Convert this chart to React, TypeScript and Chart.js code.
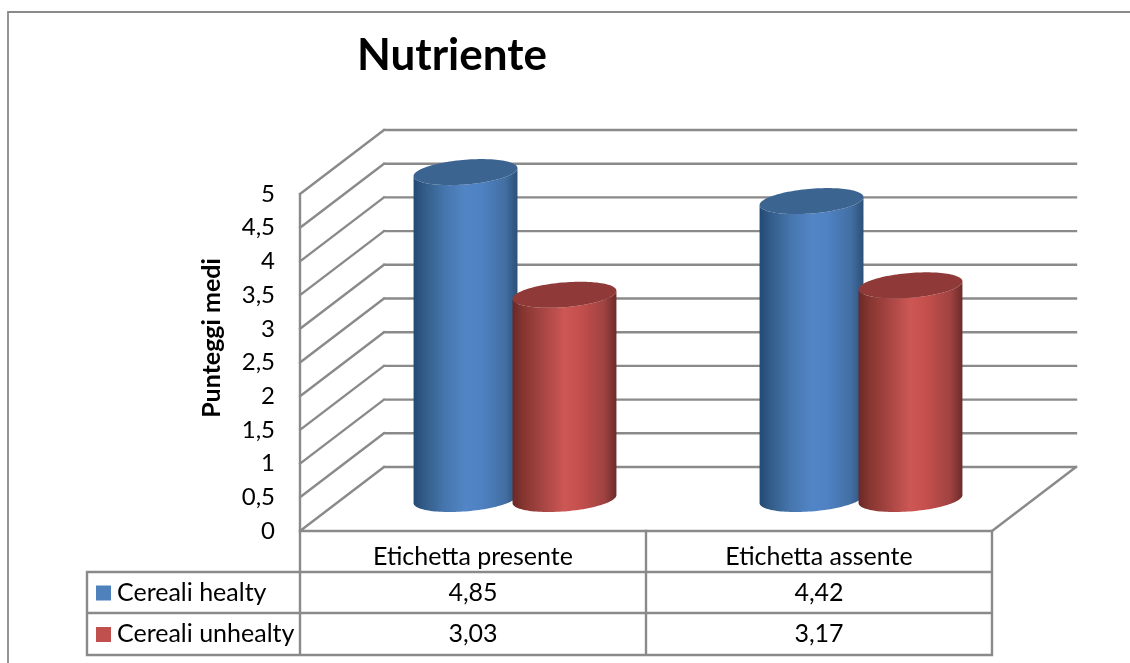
import React, { useEffect, useRef } from "react";
import { Chart, BarController, BarElement, CategoryScale, LinearScale } from "chart.js";

const categories = ["Etichetta presente", "Etichetta assente"];
const seriesNames = ["Cereali healty", "Cereali unhealty"];
const healthy = [4.85, 4.42];
const unhealthy = [3.03, 3.17];
const seriesValues = [healthy, unhealthy];
const chartTitle = "Nutriente";
const axisTitle = "Punteggi medi";

const WIDTH = 1130;
const HEIGHT = 663;
const FONT = "Lato, 'Open Sans', sans-serif";
const LINE = "#8a8a8a";

// Plot box on the front plane of the 3D frame, and the depth of the floor.
const PLOT = { left: 300, right: 992, top: 194, bottom: 531 };
const DEPTH = { x: 84, y: 64 };
// The cylinders stand halfway along the depth of the floor.
const BAR_SHIFT = { x: 42, y: 32 };
const OVAL = { minor: 12.4, tilt: 0.077 };

const SWATCHES = ["#4f81bd", "#c0504d"];
const CAPS = ["#3c6490", "#8f3a38"];
const SIDES = [
  ["#234a73", "#325b88", "#4676ad", "#5285c6", "#4f82c3", "#426fa3", "#2c5078"],
  ["#6a2827", "#85352f", "#a84644", "#cd5754", "#c44f4d", "#a04341", "#6c2b2a"],
];
const STOPS = [0, 0.1, 0.3, 0.5, 0.65, 0.88, 1];

// Bar element painted as an obliquely viewed cylinder standing on the floor.
class CylinderElement extends BarElement {
  static id = "cylinder";
  series = 0;

  draw(ctx: CanvasRenderingContext2D) {
    const { x, y, base, width } = this as any;
    const cx = x + BAR_SHIFT.x;
    const rx = width / 2;
    const topY = y - BAR_SHIFT.y;
    const baseY = base - BAR_SHIFT.y;
    const oval = (cy: number, t: number) => ({
      px: cx + rx * Math.cos(t),
      py: cy + OVAL.minor * Math.sin(t) - OVAL.tilt * rx * Math.cos(t),
    });

    const side = ctx.createLinearGradient(cx - rx, 0, cx + rx, 0);
    STOPS.forEach((s, i) => side.addColorStop(s, SIDES[this.series][i]));
    ctx.save();
    ctx.beginPath();
    for (let i = 0; i <= 60; i++) {
      const p = oval(baseY, (Math.PI * i) / 60);
      i === 0 ? ctx.moveTo(p.px, p.py) : ctx.lineTo(p.px, p.py);
    }
    for (let i = 60; i >= 0; i--) {
      const p = oval(topY, (Math.PI * i) / 60);
      ctx.lineTo(p.px, p.py);
    }
    ctx.closePath();
    ctx.fillStyle = side;
    ctx.fill();

    ctx.beginPath();
    for (let i = 0; i <= 120; i++) {
      const p = oval(topY, (2 * Math.PI * i) / 120);
      i === 0 ? ctx.moveTo(p.px, p.py) : ctx.lineTo(p.px, p.py);
    }
    ctx.closePath();
    ctx.fillStyle = CAPS[this.series];
    ctx.fill();
    ctx.restore();
  }
}

class CylinderController extends BarController {
  static id = "cylinder";
  static defaults = { ...BarController.defaults, dataElementType: "cylinder" };

  draw() {
    this.getMeta().data.forEach((el: any) => (el.series = this.index));
    super.draw();
  }
}

Chart.register(CylinderController, CylinderElement, CategoryScale, LinearScale);

function strokeSegments(ctx: CanvasRenderingContext2D, segments: number[][], width = 2.4) {
  ctx.save();
  ctx.strokeStyle = LINE;
  ctx.lineWidth = width;
  ctx.lineCap = "square";
  ctx.beginPath();
  segments.forEach(([x1, y1, x2, y2]) => {
    ctx.moveTo(x1, y1);
    ctx.lineTo(x2, y2);
  });
  ctx.stroke();
  ctx.restore();
}

// Outer border, title, axis title, 3D gridlines and the data table under the plot.
const framePlugin = {
  id: "frame",
  beforeDatasetsDraw(chart: any) {
    const ctx: CanvasRenderingContext2D = chart.ctx;
    const y = chart.scales.y;
    const x = chart.scales.x;
    const { left, right, top, bottom } = chart.chartArea;

    strokeSegments(ctx, [[8, 12, WIDTH, 12], [8, 12, 8, HEIGHT]], 1.8);

    const grid: number[][] = [[left, top, left, bottom], [left, bottom, right, bottom], [right, bottom, right + DEPTH.x, bottom - DEPTH.y]];
    y.ticks.forEach((t: any) => {
      const py = y.getPixelForValue(t.value);
      grid.push([left, py, left + DEPTH.x, py - DEPTH.y]);
      grid.push([left + DEPTH.x, py - DEPTH.y, right + DEPTH.x, py - DEPTH.y]);
    });
    strokeSegments(ctx, grid);

    const rows = [572, 613, 655];
    const middle = x.getPixelForValue(0.5);
    strokeSegments(ctx, [
      [left, bottom, left, rows[2]],
      [middle, bottom, middle, rows[2]],
      [right, bottom, right, rows[2]],
      [87, rows[0], right, rows[0]],
      [87, rows[1], right, rows[1]],
      [87, rows[2], right, rows[2]],
      [87, rows[0], 87, rows[2]],
    ]);

    ctx.save();
    ctx.fillStyle = "#000";
    ctx.textBaseline = "middle";
    ctx.textAlign = "left";
    ctx.font = `bold 44px ${FONT}`;
    ctx.fillText(chartTitle, 357, 56);

    ctx.font = `25px ${FONT}`;
    seriesNames.forEach((name, i) => {
      const cy = (rows[i] + rows[i + 1]) / 2;
      ctx.fillStyle = SWATCHES[i];
      ctx.fillRect(96, cy - 7, 15, 15);
      ctx.fillStyle = "#000";
      ctx.textAlign = "left";
      ctx.fillText(name, 117, cy);
      ctx.textAlign = "center";
      seriesValues[i].forEach((v, j) => {
        ctx.fillText(String(v).replace(".", ","), x.getPixelForValue(j), cy);
      });
    });

    ctx.translate(212, 338);
    ctx.rotate(-Math.PI / 2);
    ctx.textAlign = "center";
    ctx.font = `bold 25px ${FONT}`;
    ctx.fillText(axisTitle, 0, 0);
    ctx.restore();

    // Earlier series first, so that each later cylinder overlaps its neighbour.
    chart.getSortedVisibleDatasetMetas().forEach((m: any) => m.controller.draw());
    return false;
  },
};

export default function App() {
  const ref = useRef<HTMLCanvasElement>(null);
  useEffect(() => {
    const chart = new Chart(ref.current!, {
      type: "cylinder" as any,
      data: {
        labels: categories,
        datasets: seriesNames.map((label, i) => ({
          label,
          data: seriesValues[i],
          backgroundColor: SWATCHES[i],
          categoryPercentage: 0.572,
          barPercentage: 1.05,
        })),
      },
      options: {
        animation: false,
        responsive: false,
        layout: { padding: { top: PLOT.top, right: WIDTH - PLOT.right, left: 0, bottom: 0 } },
        plugins: { legend: { display: false }, title: { display: false }, tooltip: { enabled: false } },
        scales: {
          x: {
            type: "category",
            grid: { display: false, drawTicks: false },
            border: { display: false },
            ticks: { padding: 11, maxRotation: 0, color: "#000", font: { family: FONT, size: 25 } },
            afterFit: (s: any) => { s.height = HEIGHT - PLOT.bottom; },
          },
          y: {
            type: "linear",
            min: 0,
            max: 5,
            grid: { display: false, drawTicks: false },
            border: { display: false },
            ticks: {
              stepSize: 0.5,
              padding: 25,
              color: "#000",
              font: { family: FONT, size: 24 },
              callback: (v: any) => String(v).replace(".", ","),
            },
            afterFit: (s: any) => { s.width = PLOT.left; },
          },
        },
      },
      plugins: [framePlugin],
    } as any);
    return () => chart.destroy();
  }, []);
  return (
    <div style={{ position: "absolute", left: 0, top: 0, width: WIDTH, height: HEIGHT, background: "#fff" }}>
      <canvas ref={ref} width={WIDTH} height={HEIGHT} style={{ display: "block" }} />
    </div>
  );
}
